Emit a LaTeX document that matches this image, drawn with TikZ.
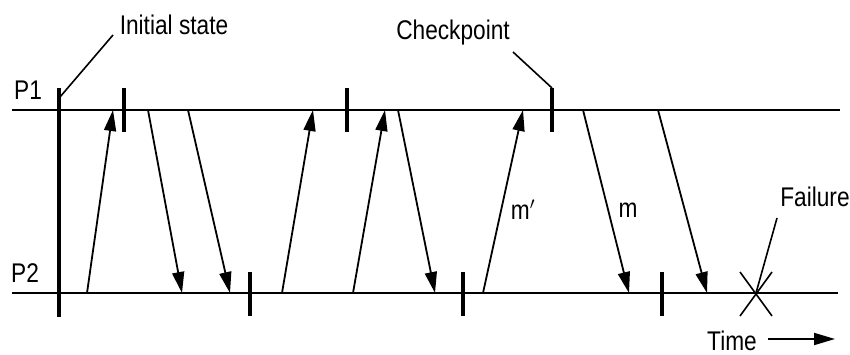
\documentclass[tikz,border=0pt]{standalone}
\usepackage{fontspec}
\setmainfont{Liberation Sans}[FakeStretch=0.84]
\usetikzlibrary{arrows.meta}
\begin{document}
\begin{tikzpicture}[x=1pt,y=-1pt,
  proc/.style={line width=2.6pt},
  ckbar/.style={line width=4pt},
  initbar/.style={line width=3.6pt},
  msg/.style={line width=1.8pt,-{Triangle[length=21pt,width=12pt]}},
  lead/.style={line width=1.6pt},
  lbl/.style={font=\fontsize{27}{30}\selectfont,inner sep=0pt,anchor=base}]
\useasboundingbox (0,0) rectangle (850,355);
% process lines
\coordinate (p1s) at (12,110); \coordinate (p1e) at (840,110);
\coordinate (p2s) at (12,293); \coordinate (p2e) at (838,293);
\draw[proc] (p1s) -- (p1e);
\draw[proc] (p2s) -- (p2e);
\node[lbl] (P1) at (28,100) {P1};
\node[lbl] (P2) at (25,282) {P2};
% initial state
\coordinate (i1) at (59,88); \coordinate (i2) at (59,317);
\draw[initbar] (i1) -- (i2);
\node[lbl] (init) at (174,35) {Initial state};
\coordinate (il1) at (60,97); \coordinate (il2) at (113,35);
\draw[lead] (il1) -- (il2);
% checkpoints P1
\foreach \x/\n in {124/a,347/b,552/c}{
  \coordinate (t\n1) at (\x,88); \coordinate (t\n2) at (\x,132);
  \draw[ckbar] (t\n1) -- (t\n2);}
% checkpoints P2
\foreach \x/\n in {250/d,463/e,662/f}{
  \coordinate (t\n1) at (\x,272); \coordinate (t\n2) at (\x,316);
  \draw[ckbar] (t\n1) -- (t\n2);}
\node[lbl] (chk) at (453,40) {Checkpoint};
\coordinate (cl1) at (513,52);
\draw[lead] (cl1) -- (tc1);
% messages
\foreach \a/\b/\n in {87/113/1,282/313/4,353/385/5,483/523/7}{
  \coordinate (s\n) at (\a,293); \coordinate (r\n) at (\b,110);
  \draw[msg] (s\n) -- (r\n);}
\foreach \a/\b/\n in {148/182/2,188/230/3,398/435/6,583/629/8,658/707/9}{
  \coordinate (s\n) at (\a,110); \coordinate (r\n) at (\b,293);
  \draw[msg] (s\n) -- (r\n);}
\node[lbl] (mp) at (523,219) {m$'$};
\node[lbl] (m) at (628,218) {m};
% failure
\coordinate (fx) at (756,293);
\coordinate (fa1) at (740,316); \coordinate (fa2) at (772,272);
\coordinate (fb1) at (772,316); \coordinate (fb2) at (740,272);
\draw[lead] (fa1) -- (fa2);
\draw[lead] (fb1) -- (fb2);
\coordinate (fl) at (777,218);
\draw[lead] (fx) -- (fl);
\node[lbl] (fail) at (815,207) {Failure};
% time
\node[lbl] (time) at (732,350) {Time};
\coordinate (ta1) at (768,339); \coordinate (ta2) at (835,339);
\draw[msg] (ta1) -- (ta2);
\end{tikzpicture}
\end{document}
